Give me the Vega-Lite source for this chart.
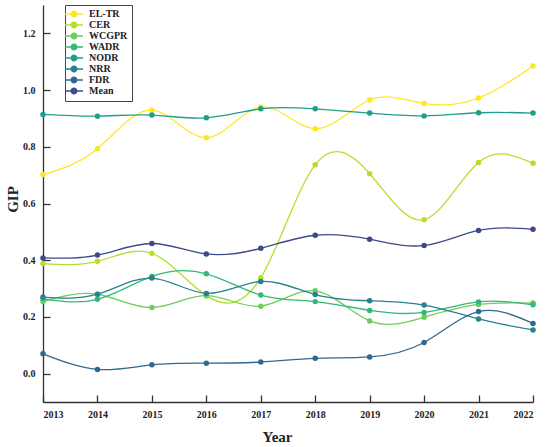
{
  "$schema": "https://vega.github.io/schema/vega-lite/v6.json",
  "autosize": "none",
  "width": 490,
  "height": 397,
  "padding": {"left": 43, "top": 5, "right": 17, "bottom": 45},
  "background": "white",
  "data": {
    "values": [
      {"year": 2013, "series": "EL-TR", "gip": 0.702},
      {"year": 2014, "series": "EL-TR", "gip": 0.793},
      {"year": 2015, "series": "EL-TR", "gip": 0.929},
      {"year": 2016, "series": "EL-TR", "gip": 0.832},
      {"year": 2017, "series": "EL-TR", "gip": 0.940},
      {"year": 2018, "series": "EL-TR", "gip": 0.864},
      {"year": 2019, "series": "EL-TR", "gip": 0.965},
      {"year": 2020, "series": "EL-TR", "gip": 0.953},
      {"year": 2021, "series": "EL-TR", "gip": 0.972},
      {"year": 2022, "series": "EL-TR", "gip": 1.085},
      {"year": 2013, "series": "CER", "gip": 0.388},
      {"year": 2014, "series": "CER", "gip": 0.396},
      {"year": 2015, "series": "CER", "gip": 0.424},
      {"year": 2016, "series": "CER", "gip": 0.275},
      {"year": 2017, "series": "CER", "gip": 0.338},
      {"year": 2018, "series": "CER", "gip": 0.737},
      {"year": 2019, "series": "CER", "gip": 0.705},
      {"year": 2020, "series": "CER", "gip": 0.543},
      {"year": 2021, "series": "CER", "gip": 0.745},
      {"year": 2022, "series": "CER", "gip": 0.742},
      {"year": 2013, "series": "WCGPR", "gip": 0.254},
      {"year": 2014, "series": "WCGPR", "gip": 0.280},
      {"year": 2015, "series": "WCGPR", "gip": 0.233},
      {"year": 2016, "series": "WCGPR", "gip": 0.275},
      {"year": 2017, "series": "WCGPR", "gip": 0.238},
      {"year": 2018, "series": "WCGPR", "gip": 0.292},
      {"year": 2019, "series": "WCGPR", "gip": 0.186},
      {"year": 2020, "series": "WCGPR", "gip": 0.199},
      {"year": 2021, "series": "WCGPR", "gip": 0.244},
      {"year": 2022, "series": "WCGPR", "gip": 0.249},
      {"year": 2013, "series": "WADR", "gip": 0.264},
      {"year": 2014, "series": "WADR", "gip": 0.262},
      {"year": 2015, "series": "WADR", "gip": 0.343},
      {"year": 2016, "series": "WADR", "gip": 0.352},
      {"year": 2017, "series": "WADR", "gip": 0.277},
      {"year": 2018, "series": "WADR", "gip": 0.254},
      {"year": 2019, "series": "WADR", "gip": 0.223},
      {"year": 2020, "series": "WADR", "gip": 0.216},
      {"year": 2021, "series": "WADR", "gip": 0.253},
      {"year": 2022, "series": "WADR", "gip": 0.243},
      {"year": 2013, "series": "NODR", "gip": 0.914},
      {"year": 2014, "series": "NODR", "gip": 0.908},
      {"year": 2015, "series": "NODR", "gip": 0.912},
      {"year": 2016, "series": "NODR", "gip": 0.902},
      {"year": 2017, "series": "NODR", "gip": 0.934},
      {"year": 2018, "series": "NODR", "gip": 0.934},
      {"year": 2019, "series": "NODR", "gip": 0.919},
      {"year": 2020, "series": "NODR", "gip": 0.909},
      {"year": 2021, "series": "NODR", "gip": 0.920},
      {"year": 2022, "series": "NODR", "gip": 0.919},
      {"year": 2013, "series": "NRR", "gip": 0.270},
      {"year": 2014, "series": "NRR", "gip": 0.280},
      {"year": 2015, "series": "NRR", "gip": 0.337},
      {"year": 2016, "series": "NRR", "gip": 0.283},
      {"year": 2017, "series": "NRR", "gip": 0.325},
      {"year": 2018, "series": "NRR", "gip": 0.279},
      {"year": 2019, "series": "NRR", "gip": 0.257},
      {"year": 2020, "series": "NRR", "gip": 0.242},
      {"year": 2021, "series": "NRR", "gip": 0.193},
      {"year": 2022, "series": "NRR", "gip": 0.154},
      {"year": 2013, "series": "FDR", "gip": 0.070},
      {"year": 2014, "series": "FDR", "gip": 0.015},
      {"year": 2015, "series": "FDR", "gip": 0.031},
      {"year": 2016, "series": "FDR", "gip": 0.037},
      {"year": 2017, "series": "FDR", "gip": 0.041},
      {"year": 2018, "series": "FDR", "gip": 0.054},
      {"year": 2019, "series": "FDR", "gip": 0.059},
      {"year": 2020, "series": "FDR", "gip": 0.110},
      {"year": 2021, "series": "FDR", "gip": 0.219},
      {"year": 2022, "series": "FDR", "gip": 0.177},
      {"year": 2013, "series": "Mean", "gip": 0.408},
      {"year": 2014, "series": "Mean", "gip": 0.418},
      {"year": 2015, "series": "Mean", "gip": 0.459},
      {"year": 2016, "series": "Mean", "gip": 0.422},
      {"year": 2017, "series": "Mean", "gip": 0.442},
      {"year": 2018, "series": "Mean", "gip": 0.488},
      {"year": 2019, "series": "Mean", "gip": 0.474},
      {"year": 2020, "series": "Mean", "gip": 0.452},
      {"year": 2021, "series": "Mean", "gip": 0.505},
      {"year": 2022, "series": "Mean", "gip": 0.509}
    ]
  },
  "encoding": {
    "x": {
      "field": "year",
      "type": "quantitative",
      "title": "Year",
      "scale": {"domain": [2013, 2022], "nice": false, "zero": false},
      "axis": {
        "values": [2013, 2014, 2015, 2016, 2017, 2018, 2019, 2020, 2021, 2022],
        "format": "d",
        "tickSize": -7,
        "labelPadding": 14,
        "titleX": 234,
        "titleY": 34,
        "titleBaseline": "middle"
      }
    },
    "y": {
      "field": "gip",
      "type": "quantitative",
      "title": "GIP",
      "scale": {"domain": [-0.1, 1.3], "nice": false, "zero": false},
      "axis": {
        "values": [0, 0.2, 0.4, 0.6, 0.8, 1.0, 1.2],
        "format": ".1f",
        "tickSize": -7,
        "labelPadding": 15,
        "titleX": -31,
        "titleY": 194,
        "titleBaseline": "middle"
      }
    },
    "color": {
      "field": "series",
      "type": "nominal",
      "scale": {
        "domain": ["EL-TR", "CER", "WCGPR", "WADR", "NODR", "NRR", "FDR", "Mean"],
        "range": ["#fde725", "#b5de2b", "#6ece58", "#35b779", "#1f9e89", "#26828e", "#31688e", "#3e4989"]
      },
      "legend": {
        "title": null,
        "orient": "none",
        "legendX": 22,
        "legendY": 0,
        "symbolType": "M-2.25,0H-0.7M0.7,0H2.25M-0.7,0A0.7,0.7 0 1,1 0.7,0A0.7,0.7 0 1,1 -0.7,0Z",
        "symbolSize": 64,
        "symbolStrokeWidth": 1.3,
        "labelFont": "Liberation Serif",
        "labelFontWeight": "bold",
        "labelFontSize": 10,
        "labelColor": "#222",
        "labelOffset": 10,
        "rowPadding": -1.7,
        "padding": 4,
        "strokeColor": "#444",
        "fillColor": "white"
      }
    }
  },
  "layer": [
    {
      "mark": {"type": "line", "interpolate": "natural", "strokeWidth": 1.3}
    },
    {
      "mark": {"type": "point", "filled": true, "size": 30, "opacity": 1, "shape": "circle"}
    }
  ],
  "config": {
    "view": {"stroke": null},
    "axis": {
      "grid": false,
      "domainColor": "#333",
      "domainWidth": 1.3,
      "tickColor": "#333",
      "tickWidth": 1.3,
      "labelFont": "Liberation Serif",
      "labelFontWeight": "bold",
      "labelFontSize": 10,
      "labelColor": "#222",
      "titleFont": "Liberation Serif",
      "titleFontWeight": "bold",
      "titleFontSize": 15,
      "titleColor": "#222"
    }
  }
}
